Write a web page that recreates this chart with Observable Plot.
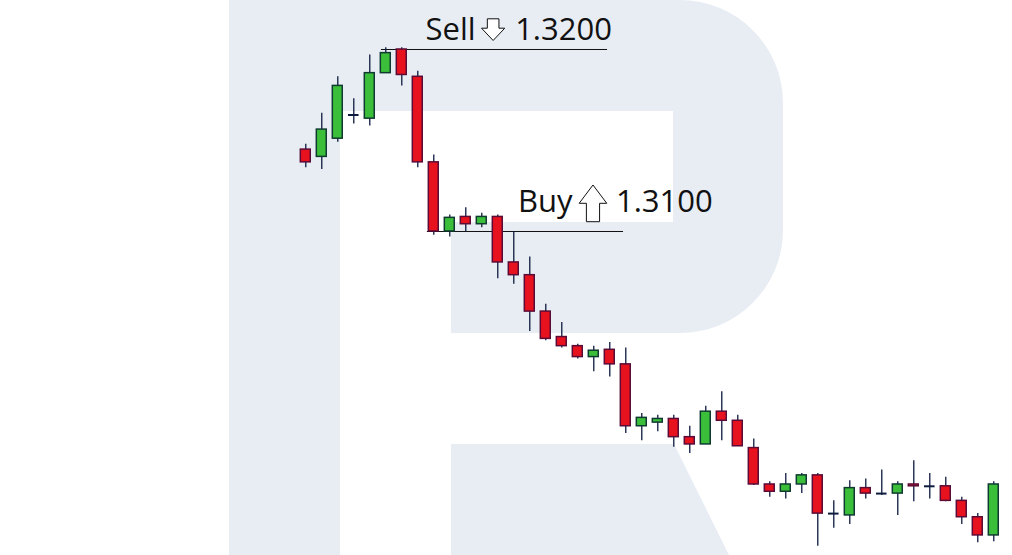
<!DOCTYPE html>
<html>
<head>
<meta charset="utf-8">
<script src="https://cdn.jsdelivr.net/npm/d3@7"></script>
<script src="https://cdn.jsdelivr.net/npm/@observablehq/plot@0.6"></script>
<style>
  html, body { margin: 0; padding: 0; background: #ffffff; }
  #chart { width: 1012px; height: 555px; overflow: hidden; }
</style>
</head>
<body>
<div id="chart"></div>
<script>
// ---- Data (quotes) ----
const open  = [1.3145,1.3141,1.3151,1.3164,1.3162,1.3187,1.3200,1.3185,1.3138,1.3100,
               1.3108,1.3104,1.3108,1.3083,1.3076,1.3056,1.3042,1.3037,1.3031,1.3035,
               1.3027,1.2993,1.2995,1.2997,1.2987,1.2983,1.3001,1.2996,1.2981,1.2961,
               1.2957,1.2961,1.2966,1.2945,1.2944,1.2959,1.2956,1.2956,1.2961,1.2960,
               1.2960,1.2952,1.2943,1.2933];
const high  = [1.3148,1.3165,1.3185,1.3173,1.3197,1.3201,1.3201,1.3188,1.3142,1.3109,
               1.3113,1.3110,1.3109,1.3100,1.3086,1.3060,1.3050,1.3038,1.3037,1.3039,
               1.3036,1.3000,1.2999,1.2999,1.2993,1.3004,1.3012,1.2999,1.2986,1.29625,
               1.2967,1.2967,1.2967,1.2952,1.2963,1.2964,1.2969,1.29625,1.2974,1.2967,
               1.2965,1.2954,1.2945,1.29625];
const low   = [1.3135,1.3134,1.3149,1.3159,1.3158,1.3187,1.3180,1.3135,1.3098,1.3097,
               1.3100,1.3102,1.3074,1.3071,1.3045,1.3040,1.3036,1.3030,1.3023,1.3020,
               1.2989,1.2985,1.2990,1.29815,1.2978,1.2983,1.2985,1.2982,1.29605,1.2954,
               1.2953,1.2956,1.2927,1.2937,1.2939,1.2953,1.2955,1.2944,1.29515,1.2953,
               1.29515,1.2939,1.2929,1.29295];
const close = [1.3138,1.3156,1.3180,1.3164,1.3187,1.3198,1.3186,1.3138,1.3100,1.31075,
               1.3104,1.3108,1.3083,1.3076,1.3056,1.3041,1.3037,1.3031,1.30345,1.3027,
               1.2993,1.29976,1.2997,1.2987,1.2983,1.3001,1.2996,1.2982,1.2961,1.2957,
               1.2961,1.2966,1.2945,1.2945,1.2959,1.2956,1.2956,1.2961,1.2960,1.2960,
               1.2952,1.2943,1.2933,1.2961];

// Trade levels (annotation): price, word, value label, bar span of the line, bar at which the arrow sits
const levelWord  = ["Sell", "Buy"];
const levelPrice = [1.3200, 1.3100];
const levelLabel = ["1.3200", "1.3100"];
const levelFrom  = [4.73, 7.6];
const levelTo    = [18.86, 19.86];
const levelArrow = [11.71, 17.95];
const levelDir   = ["down", "up"];

// ---- Build tables ----
const candles = open.map((o, i) => ({i, o, h: high[i], l: low[i], c: close[i]}));
const ups   = candles.filter(d => d.c > d.o);
const downs = candles.filter(d => d.c < d.o);
const dojis = candles.filter(d => d.c === d.o);
const levels = levelWord.map((w, k) => ({
  word: w, price: levelPrice[k], label: levelLabel[k],
  from: levelFrom[k], to: levelTo[k], arrow: levelArrow[k], dir: levelDir[k]
}));

// ---- Styles ----
const RED = "#e8121e", RED_EDGE = "#5a0b36";
const GREEN = "#3bbf3b", GREEN_EDGE = "#0f3a30";
const WICK = "#0d1b3e";
const WATER = "#e8edf4";
const FONT = "Open Sans, sans-serif";

// Hollow arrow symbols (pixel geometry, origin at the lower end)
const arrowDown = {draw(ctx) {
  ctx.moveTo(0, 0); ctx.lineTo(-11.6, -12.3); ctx.lineTo(-5.8, -12.3); ctx.lineTo(-5.8, -21.7);
  ctx.lineTo(5.8, -21.7); ctx.lineTo(5.8, -12.3); ctx.lineTo(11.6, -12.3); ctx.closePath();
}};
const arrowUp = {draw(ctx) {
  ctx.moveTo(-6.6, 0); ctx.lineTo(-6.6, -18.4); ctx.lineTo(-13.8, -18.4); ctx.lineTo(0, -36.7);
  ctx.lineTo(13.8, -18.4); ctx.lineTo(6.6, -18.4); ctx.lineTo(6.6, 0); ctx.closePath();
}};

// Background "R" watermark (decoration)
function watermark() {
  const g = d3.create("svg:g");
  g.append("path").attr("fill", WATER).attr("d",
    "M229,0H340V555H229Z" +
    "M340,0H680A103,103 0 0 1 783,103V230A103,103 0 0 1 680,333H451V222H673V111H340Z" +
    "M451,444H674L729,555H451Z");
  return g.node();
}

const liftText = {Sell: 9, Buy: 19};
const liftArrow = {Sell: 9, Buy: 9.8};
const gapWord = {Sell: 17.5, Buy: 20.5};
const gapValue = {Sell: 22, Buy: 23};

const textMarks = levels.flatMap(l => [
  Plot.text([l], {x: "arrow", y: "price", text: "word", textAnchor: "end", lineAnchor: "bottom",
    dx: -gapWord[l.word], dy: -liftText[l.word], fontSize: 31, fontFamily: FONT, fill: "#111"}),
  Plot.text([l], {x: "arrow", y: "price", text: "label", textAnchor: "start", lineAnchor: "bottom",
    dx: gapValue[l.word], dy: -liftText[l.word], fontSize: 31, fontFamily: FONT, fill: "#111"}),
  Plot.dot([l], {x: "arrow", y: "price", r: 6, dy: -liftArrow[l.word],
    symbol: l.dir === "down" ? arrowDown : arrowUp, fill: "white", stroke: "#111", strokeWidth: 1})
]);

const chart = Plot.plot({
  width: 1012,
  height: 555,
  margin: 0,
  style: {background: "transparent", overflow: "visible"},
  x: {axis: null, domain: [-19.08, 44.17]},
  y: {axis: null, domain: [1.2921978, 1.3226923]},
  marks: [
    watermark,
    Plot.ruleY(levels, {y: "price", x1: "from", x2: "to", stroke: "#111", strokeWidth: 1}),
    Plot.ruleX(candles, {x: "i", y1: "l", y2: "h", stroke: WICK, strokeWidth: 1.3}),
    Plot.rect(downs, {x1: d => d.i - 0.31, x2: d => d.i + 0.31, y1: "o", y2: "c",
      fill: RED, stroke: RED_EDGE, strokeWidth: 1.5}),
    Plot.rect(ups, {x1: d => d.i - 0.31, x2: d => d.i + 0.31, y1: "o", y2: "c",
      fill: GREEN, stroke: GREEN_EDGE, strokeWidth: 1.5}),
    Plot.ruleY(dojis, {y: "o", x1: d => d.i - 0.33, x2: d => d.i + 0.33, stroke: WICK, strokeWidth: 2}),
    ...textMarks
  ]
});
document.getElementById("chart").appendChild(chart);
</script>
</body>
</html>
